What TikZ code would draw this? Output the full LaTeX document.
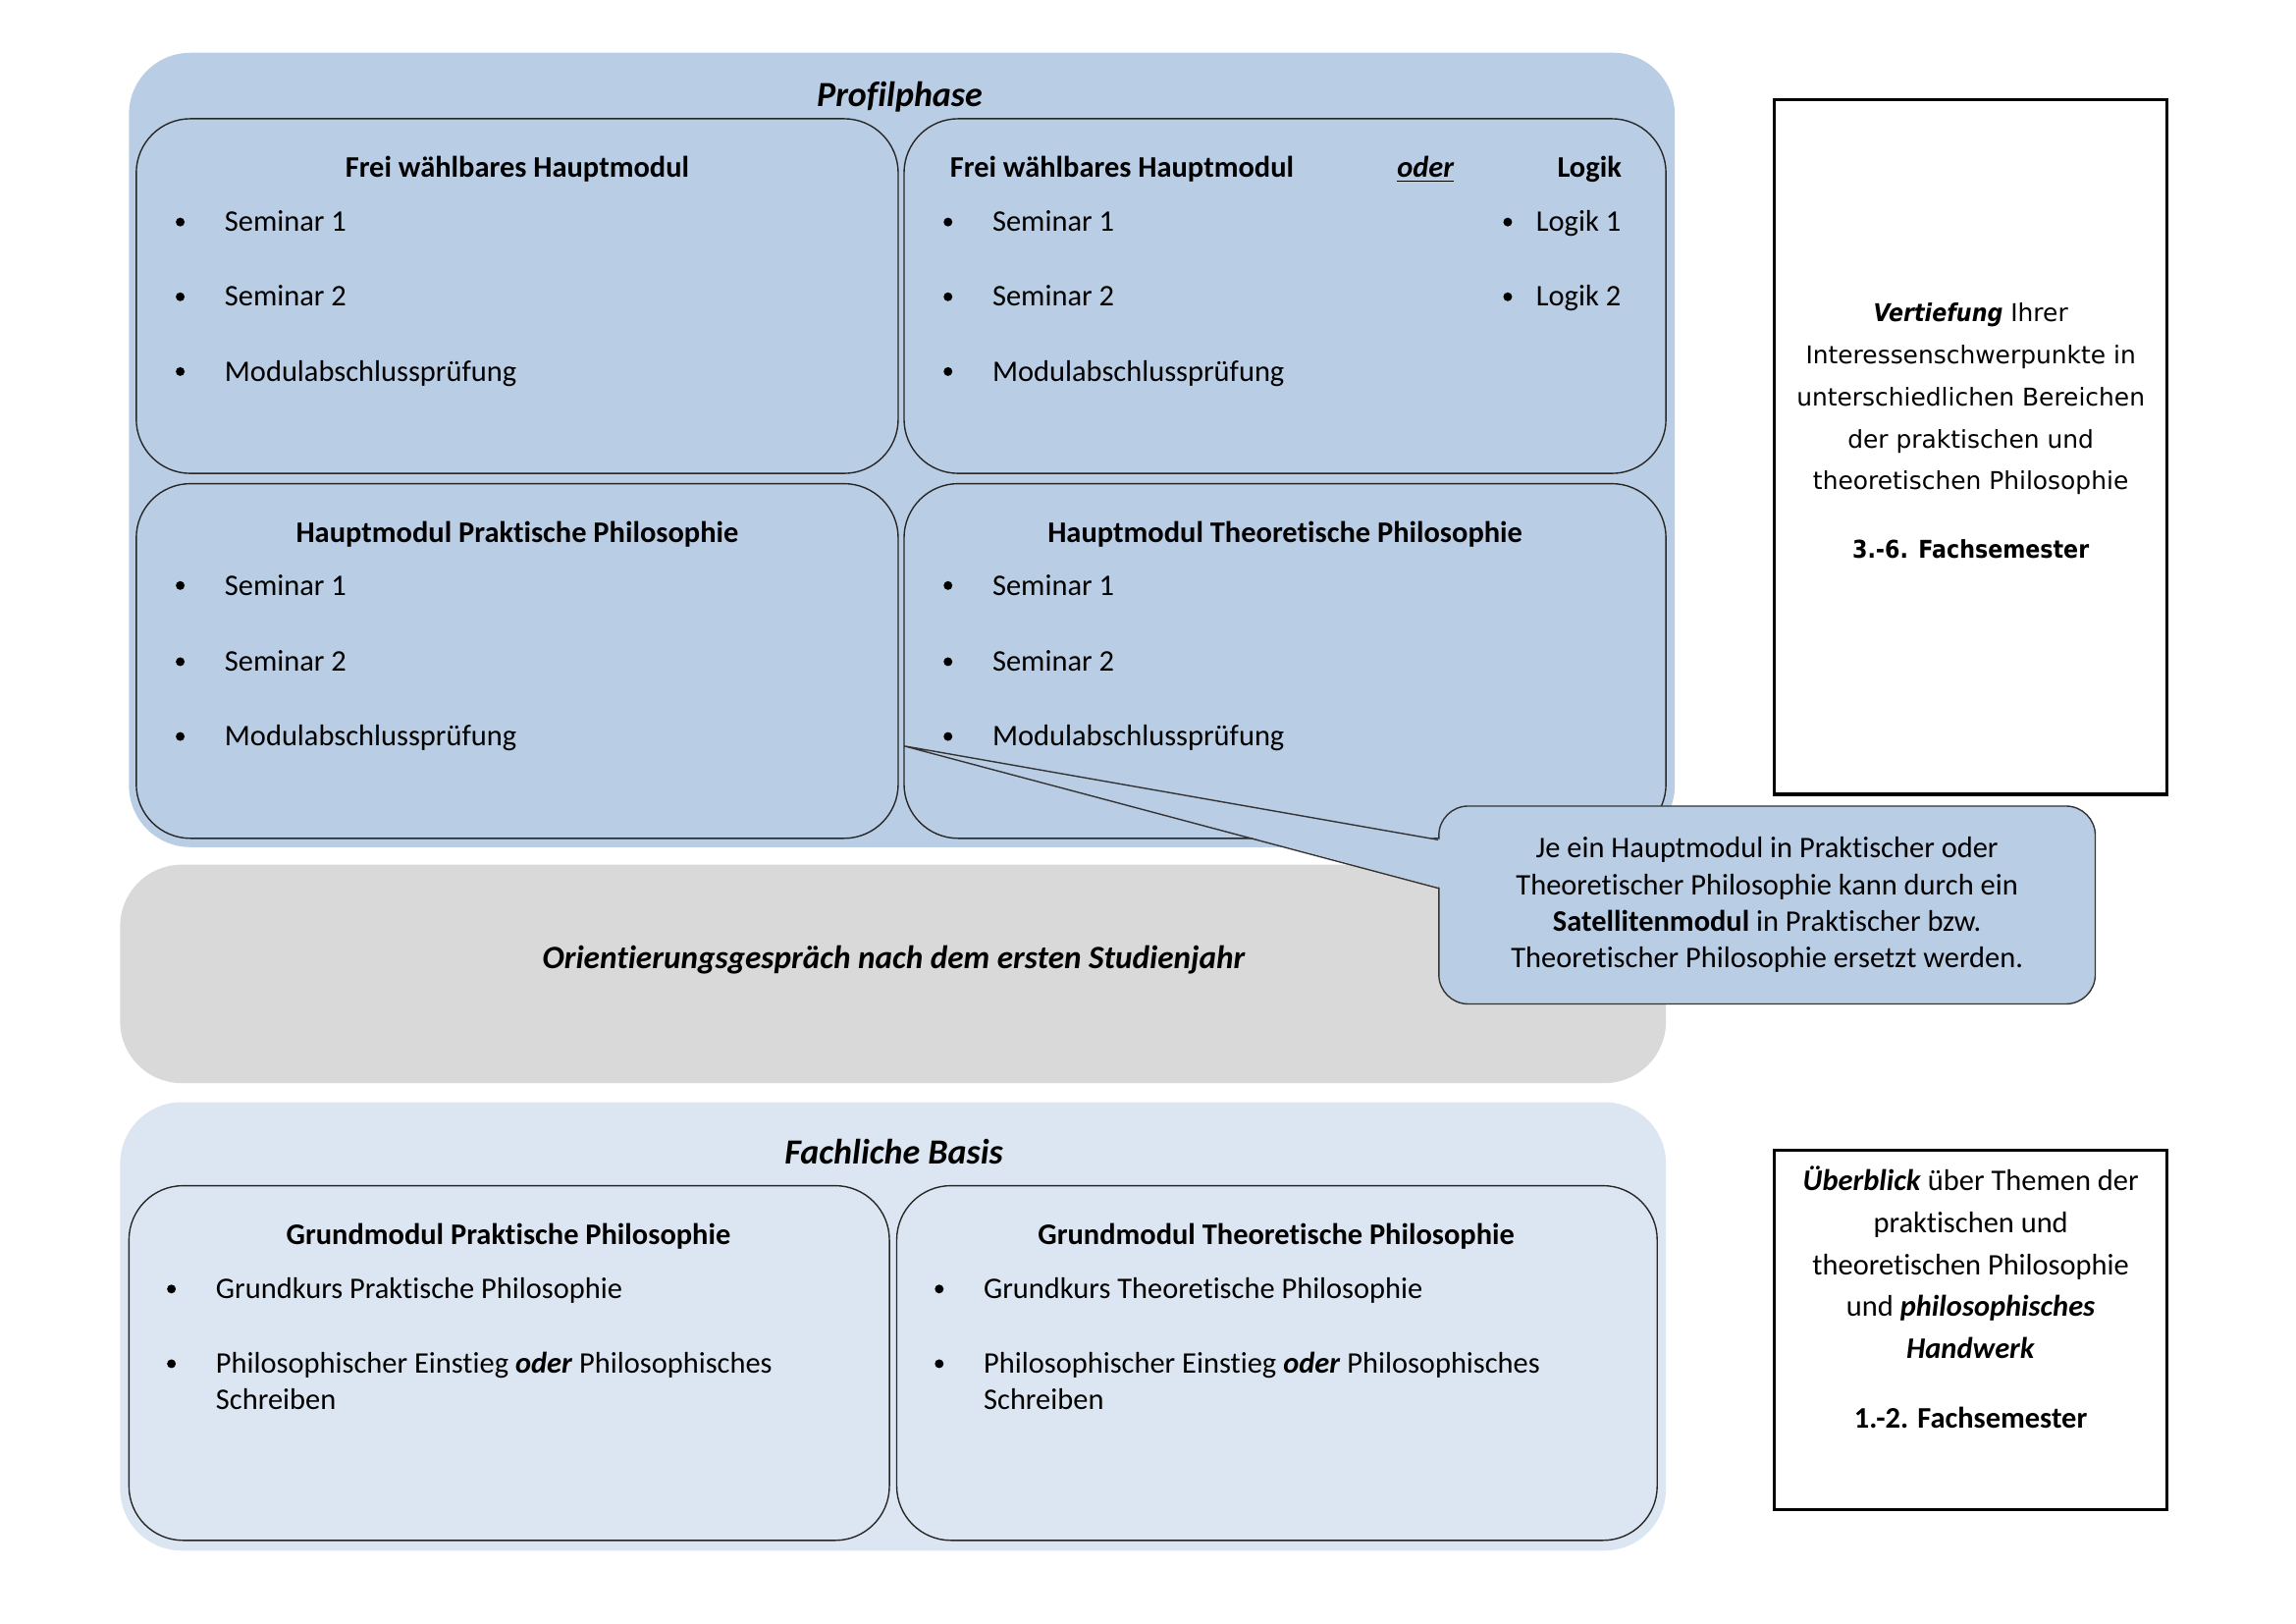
\documentclass[tikz,border=0pt]{standalone}
\usepackage{fontspec}
\setmainfont[Ligatures={NoCommon,NoContextual}, RawFeature={-liga;-clig;-calt}]{Carlito}
\newfontfamily\dejavu[BoldFeatures={FakeStretch=0.89}, BoldItalicFeatures={FakeStretch=0.89}]{DejaVu Sans}
\usetikzlibrary{calc}

% one pixel of the page layout
\newcommand{\px}{0.018953cm}

\definecolor{profilblue}{HTML}{B9CDE5}
\definecolor{basisblue}{HTML}{DCE6F2}
\definecolor{orientgray}{HTML}{D9D9D9}

\tikzset{
  phasebox/.style={rounded corners=42*\px},
  modbox/.style={draw=black!85, line width=0.5pt, rounded corners=37*\px},
  infobox/.style={draw=black, line width=1.2pt},
  callout/.style={draw=black!80, line width=0.5pt, fill=profilblue, rounded corners=20*\px},
  phasetitle/.style={anchor=base, inner sep=0pt, font=\fontsize{13pt}{15pt}\selectfont\bfseries\itshape},
  head/.style={anchor=base, inner sep=0pt, font=\fontsize{11pt}{13pt}\selectfont\bfseries},
  item/.style={anchor=base west, inner sep=0pt},
  dot/.style={circle, fill=black, inner sep=0pt, minimum size=6*\px},
}

% bullet point: name, x, y (baseline), text
\newcommand{\bulletitem}[4]{%
  \node[dot] (#1dot) at (#2-30,#3-6.5) {};
  \node[item] (#1) at (#2,#3) {#4};}

\begin{document}
\begin{tikzpicture}[x=\px, y=-\px, font=\fontsize{11pt}{13pt}\selectfont]
\useasboundingbox (0,0) rectangle (1567,1108);

%Profilphase
\fill[profilblue, phasebox] (88,36) rectangle (1143,578);
\node[phasetitle] (profil) at (614,73) {Profilphase};

\draw[modbox, fill=profilblue] (93,81) rectangle (613,323);
\draw[modbox, fill=profilblue] (617,81) rectangle (1137,323);
\draw[modbox, fill=profilblue] (93,330) rectangle (613,572);
\draw[modbox, fill=profilblue] (617,330) rectangle (1137,572);

% frei waehlbares Hauptmodul
\node[head] (fwa) at (353,121) {Frei wählbares Hauptmodul};
\bulletitem{fwaS1}{153}{158}{Seminar 1}
\bulletitem{fwaS2}{153}{209}{Seminar 2}
\bulletitem{fwaMP}{153}{260}{Modulabschlussprüfung}

% frei waehlbares Hauptmodul oder Logik
\node[head, anchor=base west] (fwb) at (648,121) {Frei wählbares Hauptmodul};
\node[head] (oder) at (973,121) {\underline{\textit{oder}}};
\node[head, anchor=base east] (logik) at (1107,121) {Logik};
\bulletitem{fwbS1}{677}{158}{Seminar 1}
\bulletitem{fwbS2}{677}{209}{Seminar 2}
\bulletitem{fwbMP}{677}{260}{Modulabschlussprüfung}
\node[dot] (lg1dot) at (1029,151.5) {};
\node[item] (lg1) at (1048,158) {Logik 1};
\node[dot] (lg2dot) at (1029,202.5) {};
\node[item] (lg2) at (1048,209) {Logik 2};

% Hauptmodul Praktische Philosophie
\node[head] (hpp) at (353,370) {Hauptmodul Praktische Philosophie};
\bulletitem{hppS1}{153}{406}{Seminar 1}
\bulletitem{hppS2}{153}{458}{Seminar 2}
\bulletitem{hppMP}{153}{509}{Modulabschlussprüfung}

% Hauptmodul Theoretische Philosophie
\node[head] (htp) at (877,370) {Hauptmodul Theoretische Philosophie};
\bulletitem{htpS1}{677}{406}{Seminar 1}
\bulletitem{htpS2}{677}{458}{Seminar 2}
\bulletitem{htpMP}{677}{509}{Modulabschlussprüfung}

%Orientierung
\fill[orientgray, phasebox] (82,590) rectangle (1137,739);
\node[anchor=base, inner sep=0pt, font=\fontsize{12pt}{14pt}\selectfont\bfseries\itshape] (orient) at (610,661) {Orientierungsgespräch nach dem ersten Studienjahr};

%Fachliche Basis
\fill[basisblue, phasebox] (82,752) rectangle (1137,1058);
\node[phasetitle] (basis) at (610,794) {Fachliche Basis};

\draw[modbox, fill=basisblue] (88,809) rectangle (607,1051);
\draw[modbox, fill=basisblue] (612,809) rectangle (1131,1051);

\node[head] (gpp) at (347,849) {Grundmodul Praktische Philosophie};
\bulletitem{gppGK}{147}{886}{Grundkurs Praktische Philosophie}
\bulletitem{gppPE}{147}{937}{Philosophischer Einstieg \textbf{\textit{oder}} Philosophisches}
\node[item] (gppPEb) at (147,962) {Schreiben};

\node[head] (gtp) at (871,849) {Grundmodul Theoretische Philosophie};
\bulletitem{gtpGK}{671}{886}{Grundkurs Theoretische Philosophie}
\bulletitem{gtpPE}{671}{937}{Philosophischer Einstieg \textbf{\textit{oder}} Philosophisches}
\node[item] (gtpPEb) at (671,962) {Schreiben};

%Semester boxes
\draw[infobox] (1211,68) rectangle (1479,542);
\node[align=center, font=\dejavu\fontsize{9pt}{15.5pt}\selectfont] (vertiefung) at (1345,294)
  {\textbf{\textit{Vertiefung}} Ihrer\\Interessenschwerpunkte in\\unterschiedlichen Bereichen\\der praktischen und\\theoretischen Philosophie\\[9.8pt]\textbf{3.-6. Fachsemester}};

\draw[infobox] (1211,785) rectangle (1479,1030);
\node[align=center, font=\fontsize{11pt}{15.5pt}\selectfont] (ueberblick) at (1345,885)
  {\textbf{\textit{Überblick}} über Themen der\\praktischen und\\theoretischen Philosophie\\und \textbf{\textit{philosophisches}}\\\textbf{\textit{Handwerk}}\\[10pt]\textbf{1.-2. Fachsemester}};

%Callout
\node[callout, minimum width=448*\px, minimum height=135*\px, align=center,
  font=\fontsize{11pt}{13.5pt}\selectfont] (satellit) at (1206,617.5)
  {Je ein Hauptmodul in Praktischer oder\\Theoretischer Philosophie kann durch ein\\\textbf{Satellitenmodul} in Praktischer bzw.\\Theoretischer Philosophie ersetzt werden.};
\coordinate (tip) at (617,509);
\fill[profilblue] (tip) -- ($(satellit.west)+(3,-44.5)$) -- ($(satellit.west)+(3,-11.5)$) -- cycle;
\draw[black!80, line width=0.5pt] ($(satellit.west)+(0,-44.5)$) -- (tip) -- ($(satellit.west)+(0,-11.5)$);
\end{tikzpicture}
\end{document}
